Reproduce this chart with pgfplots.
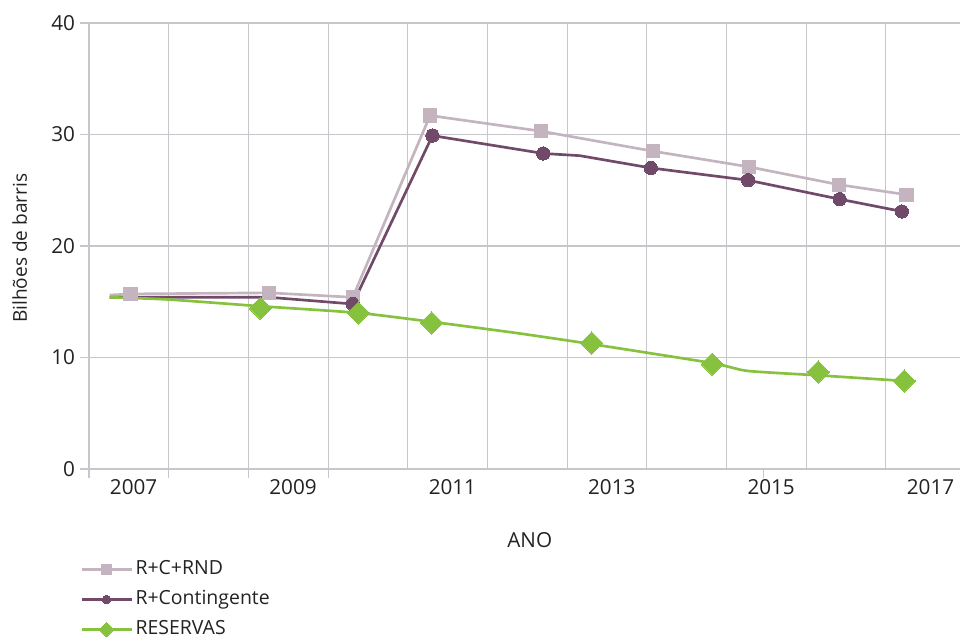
\documentclass[border=0pt]{standalone}
\usepackage{fontspec}
\setmainfont{Open Sans}
\usepackage{pgfplots}
\pgfplotsset{compat=1.18}

\definecolor{rcrnd}{RGB}{196,180,192}
\definecolor{rcont}{RGB}{112,74,104}
\definecolor{reserv}{RGB}{134,194,62}
\definecolor{gridc}{RGB}{198,198,203}
\definecolor{txt}{RGB}{34,34,34}

\begin{document}
\begin{tikzpicture}
\begin{axis}[
  name=ax,
  at={(0,0)}, anchor=south west,
  scale only axis,
  width=653.25pt, height=334.5pt,
  xmin=2006.44, xmax=2017.37,
  ymin=0, ymax=40,
  axis x line*=bottom, axis y line*=left,
  axis line style={gridc, line width=0.8pt, -},
  % grid columns
  minor xtick={2006.44,2007.44,2008.44,2009.44,2010.44,2011.44,2012.44,2013.44,2014.44,2015.44,2016.44},
  xminorgrids=true,
  minor grid style={gridc, line width=0.8pt},
  minor tick length=0pt,
  % short tick marks below the axis
  xtick={2006.44,2007.44,2008.44,2009.44,2014.9},
  xticklabels={},
  xmajorgrids=false,
  extra x ticks={2007,2009,2011,2013,2015,2017},
  extra x tick labels={2007,2009,2011,2013,2015,2017},
  extra x tick style={major tick length=0pt, grid=none,
    xticklabel style={yshift=-4pt}},
  ytick={0,10,20,30,40},
  ymajorgrids=true,
  grid style={gridc, line width=0.8pt},
  major tick length=7pt,
  tick align=outside,
  tick style={gridc, line width=0.8pt},
  /pgf/number format/assume math mode=true,
  ticklabel style={font=\fontsize{15.5}{18}\selectfont, text=txt},
  xlabel={ANO},
  xlabel style={at={(axis description cs:0.506,-0.177)}, anchor=base,
    font=\fontsize{15.5}{18}\selectfont, text=txt},
  ylabel={Bilhões de barris},
  ylabel style={at={(axis description cs:-0.0712,0.495)}, anchor=base, rotate=0,
    font=\fontsize{14.3}{17}\selectfont, text=txt},
  legend style={at={(axis description cs:-0.015,-0.192)}, anchor=north west,
    draw=none, fill=none, font=\fontsize{14.6}{17}\selectfont, text=txt,
    row sep=4.5pt,
    nodes={text height=10.5pt, text depth=3.5pt, inner sep=2pt}},
  legend cell align=left,
  legend image code/.code={\draw[mark repeat=2,mark phase=2]
    plot coordinates {(0pt,0pt) (18.75pt,0pt) (37.5pt,0pt)};},
]

% legend keys
\addlegendimage{rcrnd, line width=2pt, mark=square*, mark size=3.8pt, mark options={draw=rcrnd, fill=rcrnd, line width=0pt}}
\addlegendentry{R+C+RND}
\addlegendimage{rcont, line width=2pt, mark=*, mark size=3.2pt, mark options={draw=rcont, fill=rcont, line width=0pt}}
\addlegendentry{R+Contingente}
\addlegendimage{reserv, line width=2pt, mark=square*, mark size=3.9pt, mark options={draw=reserv, fill=reserv, line width=0pt, rotate=45}}
\addlegendentry{RESERVAS}

% R+C+RND
\addplot[rcrnd, line width=2pt, forget plot] coordinates {
  (2006.70,15.6) (2006.96,15.7) (2008.70,15.8) (2009.75,15.4) (2010.72,31.7)
  (2012.11,30.3) (2013.52,28.5) (2014.72,27.1) (2015.85,25.5) (2016.70,24.6)};
\addplot[rcrnd, only marks, mark=square*, mark size=5pt,
  mark options={draw=rcrnd, fill=rcrnd, line width=0pt}, forget plot] coordinates {
  (2006.96,15.7) (2008.70,15.8) (2009.75,15.4) (2010.72,31.7)
  (2012.11,30.3) (2013.52,28.5) (2014.72,27.1) (2015.85,25.5) (2016.70,24.6)};

% R+Contingente
\addplot[rcont, line width=2pt, forget plot] coordinates {
  (2006.70,15.4) (2008.70,15.4) (2009.75,14.8) (2010.75,29.9) (2012.14,28.3)
  (2012.60,28.1) (2013.49,27.0) (2014.71,25.9) (2015.86,24.2) (2016.64,23.1)};
\addplot[rcont, only marks, mark=*, mark size=5pt,
  mark options={draw=rcont, fill=rcont, line width=0pt}, forget plot] coordinates {
  (2009.75,14.8) (2010.75,29.9) (2012.14,28.3)
  (2013.49,27.0) (2014.71,25.9) (2015.86,24.2) (2016.64,23.1)};

% RESERVAS
\addplot[reserv, line width=2pt, smooth, tension=0.35, forget plot] coordinates {
  (2006.70,15.4) (2007.44,15.2) (2008.59,14.6) (2009.82,14.0) (2010.74,13.2)
  (2011.80,12.2) (2012.75,11.2) (2014.26,9.5) (2014.70,8.8) (2015.59,8.4) (2016.67,7.9)};
\addplot[reserv, only marks, mark=square*, mark size=5.9pt,
  mark options={draw=reserv, fill=reserv, line width=0pt, rotate=45}, forget plot] coordinates {
  (2008.59,14.4) (2009.82,14.0) (2010.74,13.1) (2012.75,11.3)
  (2014.26,9.4) (2015.59,8.7) (2016.67,7.9)};

\end{axis}
\pgfresetboundingbox
\path[use as bounding box] (-66.75pt,-127.5pt) rectangle (653.25pt,351.75pt);
\end{tikzpicture}
\end{document}
